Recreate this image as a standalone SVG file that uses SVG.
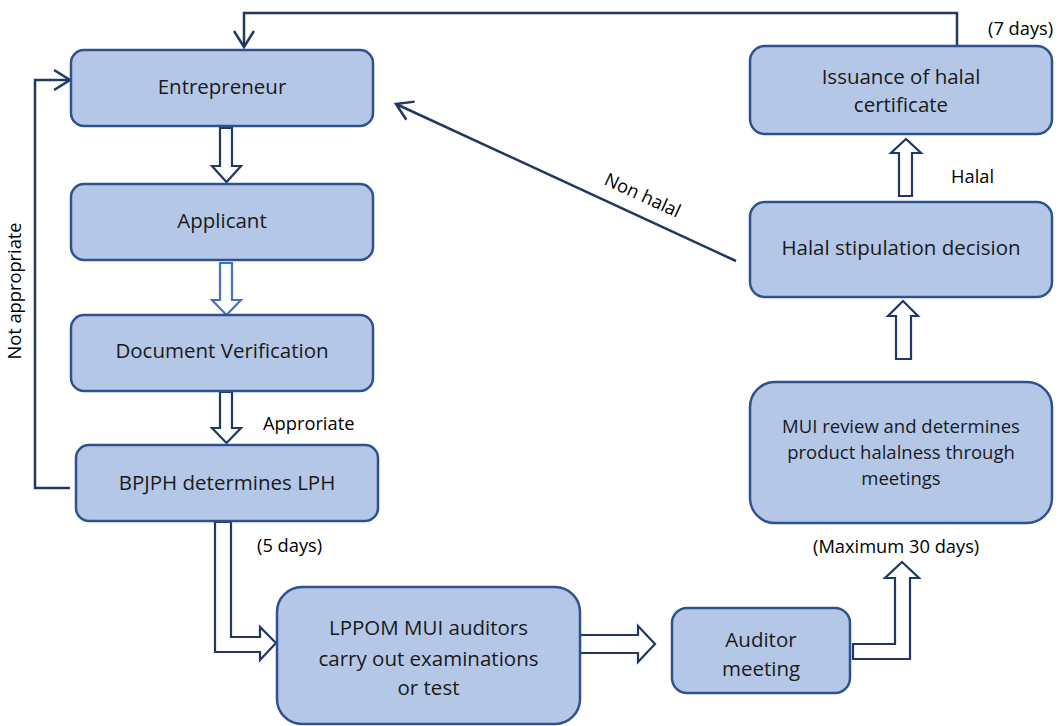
<svg xmlns="http://www.w3.org/2000/svg" width="1059" height="726" viewBox="0 0 1059 726">
<defs>
<style>
.box{fill:#B4C7E7;stroke:#2F528F;stroke-width:2.5}
.lbl{font-family:"Open Sans","Liberation Sans",sans-serif;font-size:20.5px;fill:#1a1a1a;text-anchor:middle}
.sm{font-family:"Open Sans","Liberation Sans",sans-serif;font-size:18.3px;fill:#000}
.blk{fill:#fff;stroke:#203864;stroke-width:2.2;stroke-linejoin:miter}
.ln{fill:none;stroke:#203864;stroke-width:2.5}
</style>
<marker id="chev" viewBox="0 0 19 22" refX="17" refY="11" markerWidth="19" markerHeight="22" markerUnits="userSpaceOnUse" orient="auto">
<path d="M1,1 L17,11 L1,21" fill="none" stroke="#203864" stroke-width="2.5"/>
</marker>
</defs>
<rect width="1059" height="726" fill="#fff"/>
<g id="connectors">
<polygon class="blk" points="220,128 232,128 232,166 241,166 226.5,182 212,166 220,166"/>
<polygon class="blk" style="stroke:#4472C4" points="220,263 232,263 232,300 241,300 226.5,315 212,300 220,300"/>
<polygon class="blk" points="220,392 232,392 232,428 241,428 226.5,443 212,428 220,428"/>
<polygon class="blk" points="215,522 231,522 231,637 260,637 260,627 276,643 260,660 260,652 215,652"/>
<polygon class="blk" points="580,635 638,635 638,626 655,644 638,662 638,653 580,653"/>
<polygon class="blk" points="853,644 895,644 895,578 885,578 902,562 919,578 910,578 910,659 853,659"/>
<polygon class="blk" points="896,359 911,359 911,316 918,316 903,301 888,316 896,316"/>
<polygon class="blk" points="899,196 912,196 912,153 921,153 906,139 891,153 899,153"/>
<polyline class="ln" points="70,488 35,488 35,80 70,80" marker-end="url(#chev)"/>
<polyline class="ln" points="957,46 957,13 244,13 244,47" marker-end="url(#chev)"/>
<line class="ln" x1="736" y1="261" x2="396" y2="104" marker-end="url(#chev)"/>
<text class="sm" x="21" y="291" text-anchor="middle" transform="rotate(-90 21 291)">Not appropriate</text>
<text class="sm" x="640" y="201" text-anchor="middle" transform="rotate(24.7 640 201)">Non halal</text>
<text class="sm" x="263" y="430">Approriate</text>
<text class="sm" x="257" y="552">(5 days)</text>
<text class="sm" x="813" y="553">(Maximum 30 days)</text>
<text class="sm" x="951" y="183">Halal</text>
<text class="sm" x="988" y="35">(7 days)</text>
</g>
<g id="entrepreneur"><rect class="box" x="71" y="50" width="302" height="76" rx="13"/><text class="lbl" x="222" y="94">Entrepreneur</text></g>
<g id="applicant"><rect class="box" x="71" y="184" width="302" height="76" rx="13"/><text class="lbl" x="222" y="228">Applicant</text></g>
<g id="document-verification"><rect class="box" x="71" y="315" width="302" height="76" rx="13"/><text class="lbl" x="222" y="358">Document Verification</text></g>
<g id="bpjph"><rect class="box" x="76" y="445" width="302" height="76" rx="13"/><text class="lbl" x="227" y="490">BPJPH determines LPH</text></g>
<g id="lppom"><rect class="box" x="277" y="587" width="303" height="137" rx="25"/><text class="lbl" x="428.5" y="635">LPPOM MUI auditors</text><text class="lbl" x="428.5" y="666">carry out examinations</text><text class="lbl" x="428.5" y="695">or test</text></g>
<g id="auditor-meeting"><rect class="box" x="672" y="608" width="178" height="85" rx="15"/><text class="lbl" x="761" y="647">Auditor</text><text class="lbl" x="761" y="676">meeting</text></g>
<g id="mui-review"><rect class="box" x="750" y="382" width="302" height="141" rx="25"/><text class="lbl" style="font-size:18.5px" x="901" y="433">MUI review and determines</text><text class="lbl" style="font-size:18.5px" x="901" y="459">product halalness through</text><text class="lbl" style="font-size:18.5px" x="901" y="485">meetings</text></g>
<g id="halal-decision"><rect class="box" x="750" y="202" width="302" height="95" rx="15"/><text class="lbl" x="901" y="255">Halal stipulation decision</text></g>
<g id="issuance"><rect class="box" x="750" y="46" width="302" height="88" rx="15"/><text class="lbl" x="901" y="84">Issuance of halal</text><text class="lbl" x="901" y="112">certificate</text></g>
</svg>
